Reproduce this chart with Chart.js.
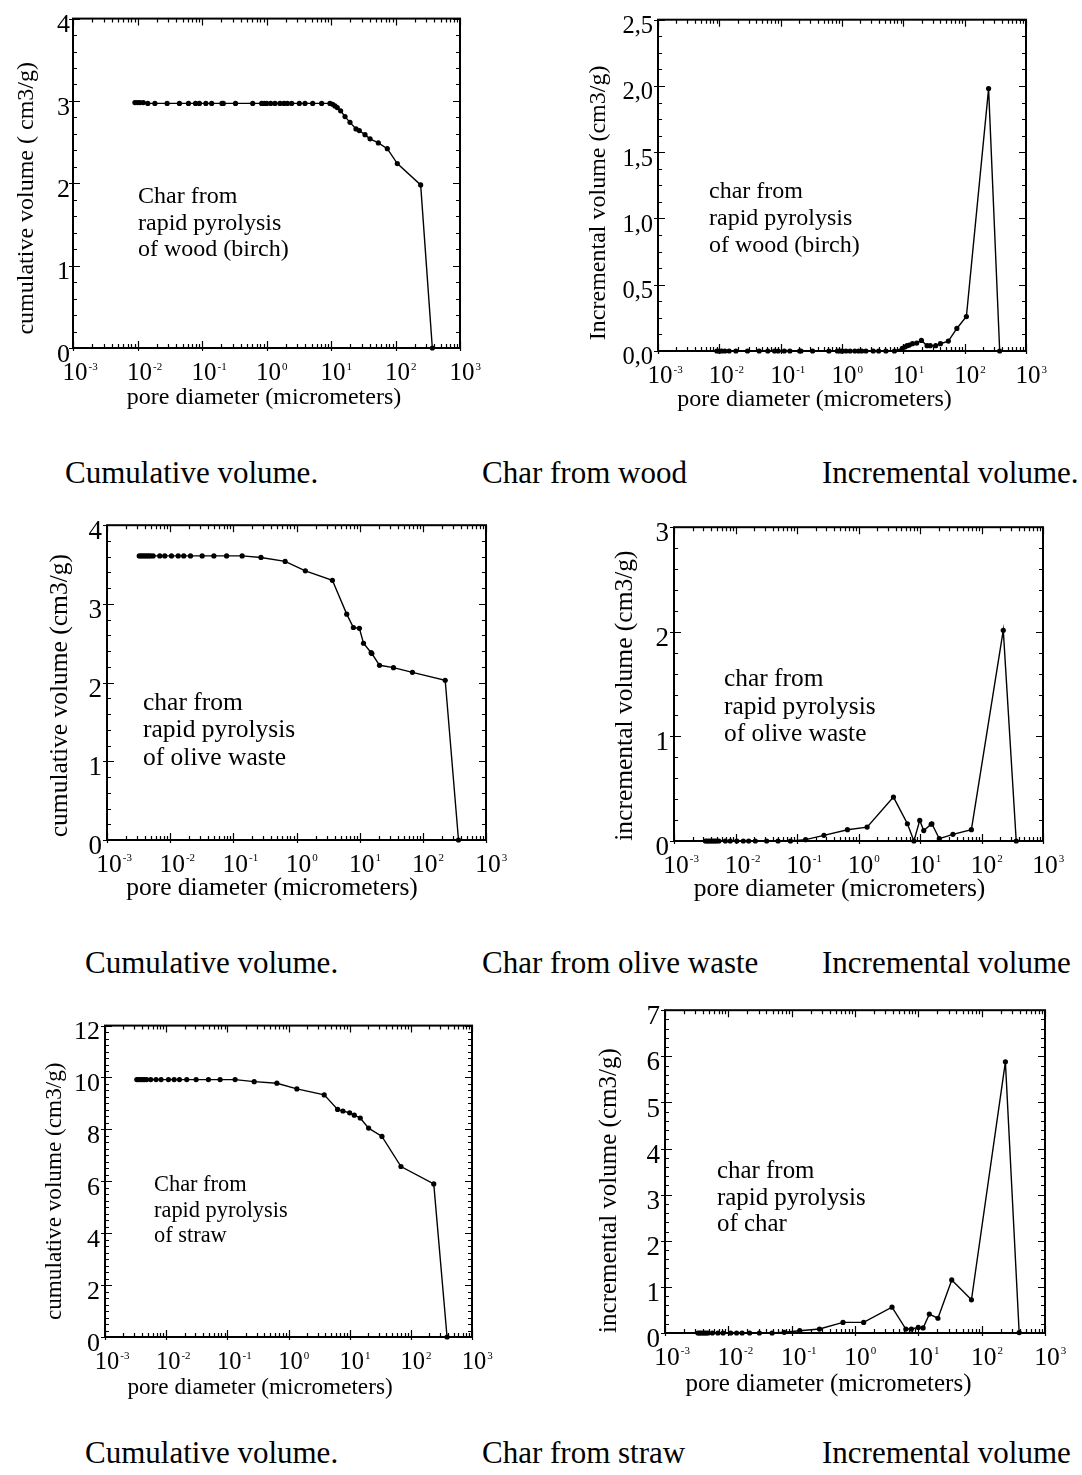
<!DOCTYPE html>
<html><head><meta charset="utf-8">
<script src="https://cdn.jsdelivr.net/npm/chart.js@4.4.1/dist/chart.umd.min.js"></script>
<style>
html,body{margin:0;padding:0;background:#fff;}
body{width:1082px;height:1475px;position:relative;overflow:hidden;font-family:'Liberation Serif','Times New Roman',serif;}
canvas{position:absolute;}
.cap{position:absolute;font-size:31px;line-height:31px;color:#000;white-space:nowrap;}
</style></head><body>
<script>
// ---------------- DATA ----------------
const woodDiameter = [0.00912,0.0100,0.01096,0.0123,0.01445,0.0186,0.0288,0.0447,0.0617,0.0794,0.0912,0.1148,0.1413,0.204,0.214,0.331,0.611,0.841,0.925,1.007,1.161,1.355,1.618,1.866,2.104,2.455,3.228,3.954,5.200,7.16,9.64,10.6,11.5,12.5,14.1,16.5,19.7,24.4,27.5,33.7,40.3,54.2,74.6,106.7,245.5,372.4];
const woodCumulative = [2.98,2.98,2.98,2.98,2.97,2.97,2.97,2.97,2.97,2.97,2.97,2.97,2.97,2.97,2.97,2.97,2.97,2.97,2.97,2.97,2.97,2.97,2.97,2.97,2.97,2.97,2.97,2.97,2.97,2.97,2.97,2.96,2.94,2.92,2.88,2.81,2.74,2.66,2.64,2.59,2.54,2.49,2.42,2.24,1.98,0];
const woodIncremental = [0,0,0,0,0,0,0,0,0,0,0,0,0,0,0,0,0,0,0,0,0,0,0,0,0,0,0,0,0,0,0.02,0.03,0.04,0.045,0.055,0.06,0.08,0.04,0.04,0.04,0.055,0.075,0.17,0.26,1.98,0];

const oliveDiameter = [0.00324,0.00347,0.00372,0.00398,0.00427,0.00457,0.00490,0.00537,0.00685,0.00822,0.0105,0.0134,0.0164,0.0210,0.0321,0.0492,0.0782,0.138,0.274,0.661,1.38,3.70,6.24,7.96,9.91,11.5,15.2,15.6,20.6,34.3,68.5,226,367];
const oliveCumulative = [3.61,3.61,3.61,3.61,3.61,3.61,3.61,3.61,3.61,3.61,3.61,3.61,3.61,3.61,3.61,3.61,3.61,3.61,3.59,3.54,3.42,3.30,2.87,2.70,2.69,2.50,2.38,2.37,2.22,2.19,2.13,2.03,0];
const oliveIncremental = [0,0,0,0,0,0,0,0,0,0,0,0,0,0,0,0,0,0.013,0.054,0.108,0.133,0.42,0.165,0,0.197,0.10,0.16,0.165,0.022,0.064,0.108,2.015,0];

const strawDiameter = [0.00331,0.00351,0.00372,0.00398,0.00422,0.00447,0.00479,0.00560,0.00684,0.00826,0.0109,0.0135,0.0165,0.0217,0.0309,0.0491,0.0762,0.134,0.275,0.646,1.37,3.84,6.35,7.76,9.98,11.9,14.9,20.4,33.7,69.0,237,391];
const strawCumulative = [9.92,9.92,9.92,9.92,9.92,9.92,9.92,9.92,9.92,9.92,9.92,9.92,9.92,9.92,9.92,9.92,9.92,9.92,9.84,9.78,9.56,9.33,8.77,8.71,8.64,8.55,8.44,8.05,7.73,6.57,5.90,0];
const strawIncremental = [0,0,0,0,0,0,0,0,0,0,0,0,0,0,0,0,0.015,0.05,0.086,0.23,0.23,0.56,0.086,0.086,0.12,0.11,0.41,0.32,1.15,0.72,5.88,0.01];

const xTickExponents = [-3,-2,-1,0,1,2,3];
const woodIncTickLabels = ['0,0','0,5','1,0','1,5','2,0','2,5'];
const xTitle = 'pore diameter (micrometers)';
const yTitles = ['cumulative volume ( cm3/g)','Incremental volume (cm3/g)','cumulative volume (cm3/g)','incremental volume (cm3/g)','cumulative volume (cm3/g)','incremental volume (cm3/g)'];
const notes = [
  ['Char from','rapid pyrolysis','of wood (birch)'],
  ['char from','rapid pyrolysis','of wood (birch)'],
  ['char from','rapid pyrolysis','of olive waste'],
  ['char from','rapid pyrolysis','of olive waste'],
  ['Char from','rapid pyrolysis','of straw'],
  ['char from','rapid pyrolysis','of char']
];
const captionRows = [
  ['Cumulative volume.','Char from wood','Incremental volume.'],
  ['Cumulative volume.','Char from olive waste','Incremental volume'],
  ['Cumulative volume.','Char from straw','Incremental volume']
];

// ---------------- LAYOUT ----------------
const FONT = "'Liberation Serif','Times New Roman',serif";
const panels = [
  {x:woodDiameter, y:woodCumulative, yMax:4, yStep:1, yMinor:0.2, L:73, T:14, R:460, B:348, padL:73, padT:14, lp:3,
   tf:25, yf:26, ttf:24, nf:24, xtDX:-2.5, xtB:56, ytX:46, ytDY:15, nX:65, nY:[178,204.7,231.3]},
  {x:woodDiameter, y:woodIncremental, yMax:2.5, yStep:0.5, yMinor:0.125, labels:woodIncTickLabels, L:658, T:16, R:1026, B:351, padL:100, padT:16, lp:5,
   tf:25, yf:24.5, ttf:24, nf:24, xtDX:-27.5, xtB:55, ytX:59, ytDY:17.5, nX:51, nY:[172,199,226]},
  {x:oliveDiameter, y:oliveCumulative, yMax:4, yStep:1, yMinor:0.2, L:107, T:524, R:486, B:840, padL:100, padT:20, lp:5,
   tf:25.5, yf:27, ttf:25.5, nf:25.5, xtDX:-24.5, xtB:55, ytX:47, ytDY:13, nX:36, nY:[178,205,233]},
  {x:oliveDiameter, y:oliveIncremental, yMax:3, yStep:1, yMinor:0.2, L:674, T:526, R:1043, B:841, padL:100, padT:20, lp:5,
   tf:25.5, yf:27, ttf:25.5, nf:25.4, xtDX:-19, xtB:55, ytX:49, ytDY:11.5, nX:50, nY:[152,180,207]},
  {x:strawDiameter, y:strawCumulative, yMax:12, yStep:2, yMinor:0.25, L:105, T:1025, R:472, B:1337, padL:100, padT:20, lp:5,
   tf:24.5, yf:26, ttf:23.2, nf:22.4, xtDX:-28.5, xtB:57, ytX:50, ytDY:10, nX:49, nY:[160,186,211]},
  {x:strawDiameter, y:strawIncremental, yMax:7, yStep:1, yMinor:0.2, L:665, T:1009, R:1045, B:1333, padL:100, padT:20, lp:5,
   tf:25.5, yf:27, ttf:25, nf:24.9, xtDX:-26.5, xtB:58, ytX:56, ytDY:19, nX:52, nY:[161,188,214]}
];
const PADR = 36, PADB = 75;
const capRowY = [473, 963, 1453];
const capColX = [[65,482,822],[85,482,822],[85,482,822]];

// ---------------- PLUGIN ----------------
const decor = {
  id: 'decor',
  afterDatasetsDraw(chart, args, o) {
    const {ctx, chartArea: a} = chart;
    const x = chart.scales.x, y = chart.scales.y;
    ctx.save();
    ctx.strokeStyle = '#000'; ctx.fillStyle = '#000';
    ctx.lineWidth = 2;
    ctx.strokeRect(a.left, a.top, a.right - a.left, a.bottom - a.top);
    ctx.lineWidth = 1.2;
    ctx.beginPath();
    for (let e = -3; e <= 3; e++) {
      for (let m = 1; m <= 9; m++) {
        if (e === 3 && m > 1) break;
        const px = Math.round(x.getPixelForValue(m * Math.pow(10, e))) + 0.5;
        const len = m === 1 ? 7 : 4;
        ctx.moveTo(px, a.bottom); ctx.lineTo(px, a.bottom - len);
        ctx.moveTo(px, a.top); ctx.lineTo(px, a.top + len);
        if (m === 1) { ctx.moveTo(px, a.bottom); ctx.lineTo(px, a.bottom + 3); }
      }
    }
    const n = Math.round(o.yMax / o.yMinor);
    for (let i = 0; i <= n; i++) {
      const v = i * o.yMinor;
      const py = Math.round(y.getPixelForValue(v)) + 0.5;
      const r = v / o.yStep;
      const major = Math.abs(r - Math.round(r)) < 1e-6;
      const len = major ? 7 : 4;
      ctx.moveTo(a.left, py); ctx.lineTo(a.left + len, py);
      ctx.moveTo(a.right, py); ctx.lineTo(a.right - len, py);
      if (major) { ctx.moveTo(a.left, py); ctx.lineTo(a.left - 4, py); }
    }
    ctx.stroke();

    // x tick labels 10^n
    const f = o.tf;
    xTickExponents.forEach(e => {
      const px = x.getPixelForValue(Math.pow(10, e));
      ctx.font = f + 'px ' + FONT;
      ctx.textAlign = 'left'; ctx.textBaseline = 'alphabetic';
      const w = ctx.measureText('10').width;
      const base = a.bottom + 32;
      ctx.fillText('10', px - w / 2 + 2, base);
      ctx.font = Math.round(f * 0.45) + 'px ' + FONT;
      ctx.fillText(String(e), px + w / 2 + 3, base - f * 0.42);
    });
    // x title
    ctx.font = o.ttf + 'px ' + FONT;
    ctx.textAlign = 'center'; ctx.textBaseline = 'alphabetic';
    ctx.fillText(xTitle, (a.left + a.right) / 2 + o.xtDX, a.bottom + o.xtB);
    // y title
    ctx.save();
    ctx.translate(a.left - o.ytX, (a.top + a.bottom) / 2 + o.ytDY);
    ctx.rotate(-Math.PI / 2);
    ctx.textBaseline = 'middle';
    ctx.fillText(o.yTitle, 0, 0);
    ctx.restore();
    // annotation
    ctx.font = o.nf + 'px ' + FONT;
    ctx.textAlign = 'left'; ctx.textBaseline = 'middle';
    o.note.forEach((t, i) => ctx.fillText(t, a.left + o.nX, a.top + o.nY[i]));
    ctx.restore();
  }
};

// ---------------- CHARTS ----------------
panels.forEach((p, idx) => {
  const cv = document.createElement('canvas');
  const W = p.padL + (p.R - p.L) + PADR;
  const H = p.padT + (p.B - p.T) + PADB;
  cv.width = W; cv.height = H;
  cv.style.left = (p.L - p.padL) + 'px';
  cv.style.top = (p.T - p.padT) + 'px';
  cv.style.width = W + 'px'; cv.style.height = H + 'px';
  document.body.appendChild(cv);
  new Chart(cv.getContext('2d'), {
    type: 'line',
    data: { datasets: [{
      data: p.x.map((d, i) => ({x: d, y: p.y[i]})),
      borderColor: '#000', borderWidth: 1.4, pointRadius: 2.6, pointBackgroundColor: '#000',
      pointBorderWidth: 0, tension: 0, fill: false, clip: 8
    }]},
    options: {
      responsive: false, animation: false, devicePixelRatio: 1,
      layout: { padding: { top: p.padT, right: PADR, left: 0, bottom: 0 } },
      plugins: {
        legend: { display: false }, tooltip: { enabled: false },
        decor: { yMax: p.yMax, yStep: p.yStep, yMinor: p.yMinor, tf: p.tf, ttf: p.ttf, nf: p.nf,
                 xtDX: p.xtDX, xtB: p.xtB, ytX: p.ytX, ytDY: p.ytDY, nX: p.nX, nY: p.nY,
                 yTitle: yTitles[idx], note: notes[idx] }
      },
      scales: {
        x: { type: 'logarithmic', min: 0.001, max: 1000,
             grid: { display: false, drawTicks: false }, border: { display: false },
             ticks: { display: false, autoSkip: false },
             afterFit(s) { s.height = PADB; } },
        y: { type: 'linear', min: 0, max: p.yMax,
             grid: { display: false, drawTicks: false }, border: { display: false },
             ticks: { stepSize: p.yStep, color: '#000', padding: p.lp, labelOffset: 7,
                      font: { family: FONT, size: p.yf },
                      callback: (v, i) => p.labels ? p.labels[i] : String(v) },
             afterFit(s) { s.width = p.padL; } }
      }
    },
    plugins: [decor]
  });
});

// ---------------- CAPTIONS ----------------
captionRows.forEach((row, r) => {
  row.forEach((t, c) => {
    const d = document.createElement('div');
    d.className = 'cap';
    d.textContent = t;
    d.style.left = capColX[r][c] + 'px';
    d.style.top = (capRowY[r] - 16) + 'px';
    document.body.appendChild(d);
  });
});
</script>
</body></html>
